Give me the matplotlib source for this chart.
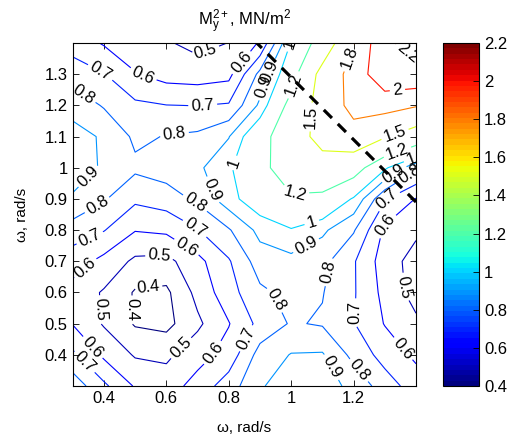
import numpy as np
import matplotlib
matplotlib.use('Agg')
import matplotlib.pyplot as plt
from matplotlib import cm, colors

plt.rcParams['font.family'] = ['Liberation Sans', 'DejaVu Sans']
plt.rcParams['mathtext.fontset'] = 'custom'
plt.rcParams['mathtext.rm'] = 'Liberation Sans'
plt.rcParams['mathtext.it'] = 'Liberation Sans:italic'

# frequency grid (rad/s)
w_x = [0.3, 0.4, 0.5, 0.6, 0.7, 0.8, 0.9, 1.0, 1.1, 1.2, 1.3, 1.4]
w_y = [1.4, 1.3, 1.2, 1.1, 1.0, 0.9, 0.8, 0.7, 0.6, 0.5, 0.4, 0.3]

# M_y^{2+} values, MN/m^2, one row per w_y (top to bottom)
m_y = [
    [0.66, 0.59, 0.55, 0.51, 0.47, 0.502, 0.61, 1.01, 1.30, 1.79, 2.17, 2.26],
    [0.75, 0.705, 0.605, 0.56, 0.55, 0.57, 0.83, 1.10, 1.60, 1.90, 2.12, 2.15],
    [0.87, 0.79, 0.72, 0.702, 0.698, 0.71, 0.92, 1.27, 1.62, 1.88, 1.90, 1.82],
    [0.93, 0.89, 0.78, 0.805, 0.82, 0.895, 1.12, 1.35, 1.60, 1.70, 1.52, 1.35],
    [0.92, 0.895, 0.82, 0.85, 0.88, 0.98, 1.15, 1.30, 1.38, 1.30, 1.02, 0.82],
    [0.895, 0.81, 0.72, 0.75, 0.82, 0.96, 1.08, 1.18, 1.15, 0.985, 0.71, 0.595],
    [0.75, 0.705, 0.605, 0.62, 0.695, 0.79, 0.93, 0.99, 0.92, 0.81, 0.58, 0.52],
    [0.65, 0.57, 0.48, 0.47, 0.57, 0.69, 0.85, 0.87, 0.83, 0.71, 0.55, 0.46],
    [0.56, 0.49, 0.39, 0.38, 0.53, 0.66, 0.78, 0.83, 0.805, 0.71, 0.57, 0.46],
    [0.595, 0.49, 0.39, 0.37, 0.48, 0.595, 0.73, 0.81, 0.79, 0.705, 0.595, 0.52],
    [0.72, 0.58, 0.49, 0.48, 0.56, 0.64, 0.84, 0.905, 0.91, 0.77, 0.66, 0.58],
    [0.86, 0.72, 0.59, 0.55, 0.64, 0.75, 0.89, 0.95, 0.95, 0.87, 0.75, 0.65],
]

levels = [0.4, 0.5, 0.6, 0.7, 0.8, 0.9, 1, 1.2, 1.5, 1.8, 2, 2.2]

# dashed boundary line
dash_x = [0.88, 1.40]
dash_y = [1.41, 0.89]

x_ticks = [0.4, 0.6, 0.8, 1.0, 1.2]
x_ticklabels = ['0.4', '0.6', '0.8', '1', '1.2']
y_ticks = [0.4, 0.5, 0.6, 0.7, 0.8, 0.9, 1.0, 1.1, 1.2, 1.3]
y_ticklabels = ['0.4', '0.5', '0.6', '0.7', '0.8', '0.9', '1', '1.1', '1.2', '1.3']
cb_ticks = [0.4, 0.6, 0.8, 1.0, 1.2, 1.4, 1.6, 1.8, 2.0, 2.2]
cb_ticklabels = ['0.4', '0.6', '0.8', '1', '1.2', '1.4', '1.6', '1.8', '2', '2.2']

# where the contour labels sit (roughly as in the original figure)
label_pos = [(0.730, 1.362), (0.522, 1.288), (0.381, 1.291), (0.333, 1.233),
             (0.717, 1.195), (0.627, 1.099), (0.851, 1.329), (0.931, 1.307),
             (0.925, 1.256), (1.021, 1.387), (1.027, 1.259), (1.059, 1.163),
             (1.187, 1.352), (1.347, 1.336), (1.341, 1.243), (1.325, 1.128),
             (1.338, 1.057), (1.379, 1.041), (1.325, 0.987), (1.379, 0.983),
             (1.309, 0.897), (1.293, 0.826), (0.819, 1.015), (1.011, 0.919),
             (0.362, 0.961), (0.378, 0.881), (0.346, 0.794), (0.323, 0.698),
             (0.749, 0.929), (0.685, 0.874), (0.685, 0.794), (0.659, 0.737),
             (0.579, 0.711), (0.541, 0.615), (0.371, 0.544), (0.477, 0.544),
             (0.653, 0.416), (0.749, 0.406), (0.362, 0.422), (0.339, 0.378),
             (1.043, 0.759), (1.059, 0.849), (0.947, 0.576), (1.117, 0.666),
             (0.845, 0.458), (1.194, 0.535), (1.354, 0.416), (1.373, 0.618),
             (1.114, 0.352), (1.219, 0.352)]

X, Y = np.meshgrid(w_x, w_y)
Z = np.array(m_y)

fig = plt.figure(figsize=(5.22, 4.40), dpi=100)
ax = fig.add_axes([0.1393, 0.1227, 0.6577, 0.7795])
cax = fig.add_axes([0.8487, 0.1227, 0.0690, 0.7795])

cmap = plt.get_cmap('jet', 64)
norm = colors.Normalize(vmin=0.4, vmax=2.2)

cs = ax.contour(X, Y, Z, levels=levels, cmap=cmap, norm=norm, linewidths=0.8)
ax.clabel(cs, fmt='%g', fontsize=12, colors='k', inline=True,
          inline_spacing=3, manual=label_pos)

ax.plot(dash_x, dash_y, color='k', lw=2.3, dashes=(3.6, 2.6), clip_on=True)

ax.set_xlim(0.3, 1.4)
ax.set_ylim(0.3, 1.4)
ax.set_xticks(x_ticks)
ax.set_xticklabels(x_ticklabels)
ax.set_yticks(y_ticks)
ax.set_yticklabels(y_ticklabels)
ax.tick_params(direction='in', top=True, right=True, labelsize=12, length=4, width=0.6)
for s in ax.spines.values():
    s.set_linewidth(0.8)

ax.set_xlabel('ω, rad/s', fontsize=11, labelpad=11)
ax.set_ylabel('ω, rad/s', fontsize=11, labelpad=11)
ax.set_title(r'$\mathrm{M_y^{2+}}$, MN/m$^2$', fontsize=12, pad=12)

cb = fig.colorbar(cm.ScalarMappable(norm=norm, cmap=cmap), cax=cax, ticks=cb_ticks)
cb.ax.set_yticklabels(cb_ticklabels)
cb.ax.tick_params(direction='in', labelsize=12, length=4, width=0.6)
cb.outline.set_linewidth(0.8)

fig.savefig('out.png', dpi=100)
